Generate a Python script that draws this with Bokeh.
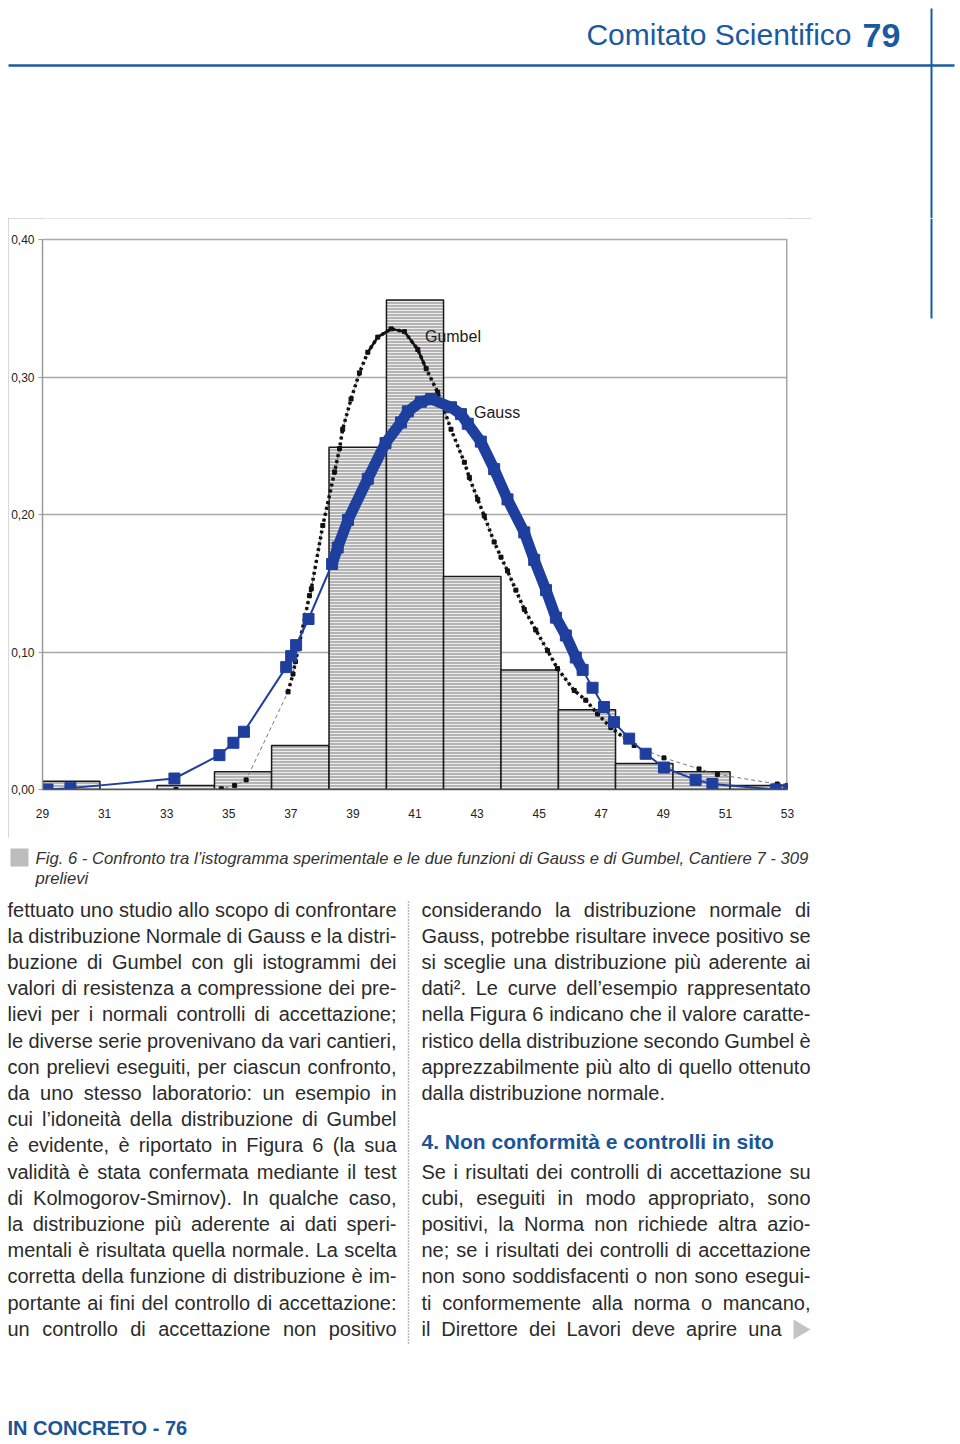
from bokeh.plotting import figure
from bokeh.layouts import column, row
from bokeh.models import Range1d, FixedTicker, CustomJSTickFormatter, ColumnDataSource, Spacer
from bokeh.core.properties import value
from bokeh.embed import file_html
from bokeh.resources import INLINE

# ---------------- data ----------------
bin_edges = [29.0, 30.85, 32.69, 34.54, 36.38, 38.23, 40.08, 41.92, 43.77, 45.62, 47.46, 49.31, 51.15, 53.0]
bar_heights = [0.006, 0.0, 0.003, 0.013, 0.032, 0.249, 0.356, 0.155, 0.087, 0.058, 0.019, 0.013, 0.003]

gauss_x = [29.16, 29.90, 33.25, 34.70, 35.15, 35.49, 36.85, 37.01, 37.17, 37.57, 38.33, 38.51, 38.84,
           39.48, 40.05, 40.55, 40.77, 41.19, 41.52, 42.16, 42.48, 42.70, 43.12, 43.55, 43.98, 44.52,
           44.84, 45.22, 45.54, 45.86, 46.18, 46.40, 46.72, 47.09, 47.41, 47.90, 48.43, 49.02, 50.04,
           50.58, 52.62, 53.04]
gauss_y = [0.000, 0.001, 0.008, 0.025, 0.034, 0.042, 0.089, 0.097, 0.105, 0.124, 0.164, 0.176, 0.196,
           0.226, 0.252, 0.267, 0.275, 0.282, 0.284, 0.278, 0.273, 0.266, 0.253, 0.233, 0.211, 0.187,
           0.167, 0.145, 0.125, 0.112, 0.096, 0.087, 0.074, 0.060, 0.049, 0.037, 0.026, 0.016, 0.007,
           0.004, 0.000, 0.000]

gumbel_x = [33.30, 34.76, 35.19, 35.56, 36.91, 37.07, 37.15, 37.60, 37.66, 38.03, 38.41, 38.57, 38.67,
            38.94, 39.21, 39.48, 39.80, 40.23, 40.66, 41.09, 41.36, 41.73, 42.16, 42.59, 42.75, 43.02,
            43.23, 43.55, 43.77, 43.98, 44.25, 44.52, 44.89, 45.27, 45.59, 46.13, 46.50, 46.88, 47.31,
            48.06, 49.02, 50.15, 50.74, 52.67, 53.00]
gumbel_y = [0.000, 0.0005, 0.003, 0.007, 0.071, 0.084, 0.093, 0.141, 0.146, 0.192, 0.231, 0.248, 0.262,
            0.284, 0.303, 0.318, 0.329, 0.335, 0.333, 0.320, 0.306, 0.289, 0.262, 0.238, 0.227, 0.211,
            0.199, 0.180, 0.169, 0.159, 0.145, 0.131, 0.116, 0.101, 0.088, 0.072, 0.065, 0.055, 0.045,
            0.032, 0.023, 0.015, 0.011, 0.004, 0.003]

y_ticks = [0.0, 0.1, 0.2, 0.3, 0.4]
x_ticks = [29, 31, 33, 35, 37, 39, 41, 43, 45, 47, 49, 51, 53]
curve_labels = ["Gumbel", "Gauss"]
curve_label_x = [41.32, 42.90]
curve_label_y = [0.3295, 0.274]

header_title = "Comitato Scientifico"
header_page = "79"
caption_lines = ["Fig. 6 - Confronto tra l’istogramma sperimentale e le due funzioni di Gauss e di Gumbel, Cantiere 7 - 309",
                 "prelievi"]
left_lines = [
    "fettuato uno studio allo scopo di confrontare",
    "la distribuzione Normale di Gauss e la distri-",
    "buzione di Gumbel con gli istogrammi dei",
    "valori di resistenza a compressione dei pre-",
    "lievi per i normali controlli di accettazione;",
    "le diverse serie provenivano da vari cantieri,",
    "con prelievi eseguiti, per ciascun confronto,",
    "da uno stesso laboratorio: un esempio in",
    "cui l’idoneità della distribuzione di Gumbel",
    "è evidente, è riportato in Figura 6 (la sua",
    "validità è stata confermata mediante il test",
    "di Kolmogorov-Smirnov). In qualche caso,",
    "la distribuzione più aderente ai dati speri-",
    "mentali è risultata quella normale. La scelta",
    "corretta della funzione di distribuzione è im-",
    "portante ai fini del controllo di accettazione:",
    "un controllo di accettazione non positivo",
]
right_lines_a = [
    "considerando la distribuzione normale di",
    "Gauss, potrebbe risultare invece positivo se",
    "si sceglie una distribuzione più aderente ai",
    "dati². Le curve dell’esempio rappresentato",
    "nella Figura 6 indicano che il valore caratte-",
    "ristico della distribuzione secondo Gumbel è",
    "apprezzabilmente più alto di quello ottenuto",
    "dalla distribuzione normale.",
]
heading = "4. Non conformità e controlli in sito"
right_lines_b = [
    "Se i risultati dei controlli di accettazione su",
    "cubi, eseguiti in modo appropriato, sono",
    "positivi, la Norma non richiede altra azio-",
    "ne; se i risultati dei controlli di accettazione",
    "non sono soddisfacenti o non sono esegui-",
    "ti conformemente alla norma o mancano,",
    "il Direttore dei Lavori deve aprire una",
]
footer = "IN CONCRETO - 76"

# ---------------- styles ----------------
BLUE = "#1a5aa0"
DBLUE = "#1b5595"
GAUSS = "#1f3f9e"
TEXT = "#2b2b2b"
SANS = "Liberation Sans"

AW = {' ': 278, '!': 278, '(': 333, ')': 333, ',': 278, '-': 333, '.': 278, ':': 278, ';': 278,
      '’': 222, "'": 191, '²': 333,
      'A': 667, 'B': 667, 'C': 722, 'D': 722, 'E': 667, 'F': 611, 'G': 778, 'H': 722, 'I': 278, 'J': 500,
      'K': 667, 'L': 556, 'M': 833, 'N': 722, 'O': 778, 'P': 667, 'Q': 778, 'R': 722, 'S': 667, 'T': 611,
      'U': 722, 'V': 667, 'W': 944, 'X': 667, 'Y': 667, 'Z': 611,
      'a': 556, 'b': 556, 'c': 500, 'd': 556, 'e': 556, 'f': 278, 'g': 556, 'h': 556, 'i': 222, 'j': 222,
      'k': 500, 'l': 222, 'm': 833, 'n': 556, 'o': 556, 'p': 556, 'q': 556, 'r': 333, 's': 500, 't': 278,
      'u': 556, 'v': 500, 'w': 722, 'x': 500, 'y': 500, 'z': 500,
      'à': 556, 'è': 556, 'é': 556, 'ì': 278, 'ò': 556, 'ù': 556}


def tw(s, size):
    return sum(AW.get(c, 556) for c in s) / 1000.0 * size


def justify(lines, x0, x1, ys, size, last_ragged=False):
    xs_out, ys_out, ts_out = [], [], []
    for i, (line, y) in enumerate(zip(lines, ys)):
        words = line.split(" ")
        widths = [tw(w, size) for w in words]
        ragged = last_ragged and i == len(lines) - 1
        if len(words) > 1 and not ragged:
            gap = (x1 - x0 - sum(widths)) / (len(words) - 1)
        else:
            gap = AW[' '] / 1000.0 * size
        x = x0
        for w, wd in zip(words, widths):
            xs_out.append(x)
            ys_out.append(y)
            ts_out.append(w)
            x += wd + gap
    return xs_out, ys_out, ts_out


def page_fig(w, h, x0, y0, bottom=0):
    f = figure(width=w, height=h, x_range=Range1d(x0, x0 + w), y_range=Range1d(y0 + h - bottom, y0),
               output_backend="svg", toolbar_location=None, x_axis_location=None, y_axis_location=None,
               min_border=0, min_border_left=0, min_border_right=0, min_border_top=0,
               min_border_bottom=bottom)
    f.grid.visible = False
    f.outline_line_color = None
    f.background_fill_color = "white"
    f.border_fill_color = "white"
    return f


# ---------------- header ----------------
header = page_fig(960, 218, 0, 0)
header.text(x=[851], y=[34], text=[header_title], text_align="right", text_baseline="alphabetic",
            text_font=value(SANS), text_font_size=value("30px"), text_color=BLUE)
header.text(x=[862], y=[35], text=[header_page], text_align="left", text_baseline="alphabetic",
            text_font=value(SANS), text_font_style="bold", text_font_size=value("34px"), text_color=BLUE)
header.segment(x0=[8], y0=[65], x1=[954], y1=[65], line_color=BLUE, line_width=2.5)
header.segment(x0=[931], y0=[8], x1=[931], y1=[218], line_color=BLUE, line_width=2)

# ---------------- chart ----------------
TOP_PAD = 21.0 / 1375.0
chart = figure(width=803, height=620, x_range=Range1d(29, 53), y_range=Range1d(0, 0.4 + TOP_PAD),
               output_backend="svg", toolbar_location=None,
               min_border_left=33, min_border_right=24, min_border_top=0, min_border_bottom=49,
               styles={"outline": "2px solid #cdcdcd", "outline-offset": "-2px"})
chart.background_fill_color = "white"
chart.border_fill_color = "white"
chart.outline_line_color = None
chart.xgrid.visible = False
chart.ygrid.ticker = FixedTicker(ticks=y_ticks)
chart.ygrid.grid_line_color = "#a8a8a8"
chart.ygrid.grid_line_width = 1.5
chart.yaxis.ticker = FixedTicker(ticks=y_ticks)
chart.xaxis.ticker = FixedTicker(ticks=x_ticks)
chart.yaxis.bounds = (0, 0.4)
chart.yaxis.formatter = CustomJSTickFormatter(code="return tick.toFixed(2).replace('.', ',');")
for ax in (chart.xaxis[0], chart.yaxis[0]):
    ax.minor_tick_line_color = None
    ax.major_label_text_font = SANS
    ax.major_label_text_font_size = "12px"
    ax.major_label_text_color = "#222222"
chart.yaxis.axis_line_color = "#9a9a9a"
chart.yaxis.axis_line_width = 1.5
chart.yaxis.major_tick_line_color = "#9a9a9a"
chart.yaxis.major_tick_out = 4
chart.yaxis.major_tick_in = 0
chart.yaxis.major_label_standoff = 4
chart.xaxis.axis_line_color = "#555555"
chart.xaxis.axis_line_width = 1.5
chart.xaxis.major_tick_line_color = None
chart.xaxis.major_label_standoff = 13

# right edge of the plot area
chart.segment(x0=[x_ticks[-1]], y0=[y_ticks[0]], x1=[x_ticks[-1]], y1=[y_ticks[-1]],
              line_color="#a8a8a8", line_width=3)

chart.quad(left=bin_edges[:-1], right=bin_edges[1:], bottom=0, top=bar_heights,
           fill_color="#b4b4b4", line_color="#1a1a1a", line_width=1.5,
           hatch_pattern="horizontal_line", hatch_color="#ededed", hatch_scale=3, hatch_weight=1)

# Gumbel
chart.line(gumbel_x, gumbel_y, line_color="#7a7a7a", line_width=1, line_dash="4 3")
gd = [(x, y) for x, y in zip(gumbel_x, gumbel_y) if 36.8 <= x <= 48.1]
chart.line([p[0] for p in gd], [p[1] for p in gd], line_color="#111111", line_width=3.5, line_dash="3 3")
gp = [(x, y) for x, y in zip(gumbel_x, gumbel_y) if 39.4 <= x <= 41.4]
chart.line([p[0] for p in gp], [p[1] for p in gp], line_color="#111111", line_width=2.5)
chart.scatter(gumbel_x, gumbel_y, marker="square", size=4, color="#111111")

# Gauss
chart.line(gauss_x, gauss_y, line_color=GAUSS, line_width=2)
gg = [(x, y) for x, y in zip(gauss_x, gauss_y) if 38.3 <= x <= 46.5]
chart.line([p[0] for p in gg], [p[1] for p in gg], line_color=GAUSS, line_width=11)
chart.scatter(gauss_x, gauss_y, marker="square", size=11, color=GAUSS)

chart.text(x=curve_label_x, y=curve_label_y, text=curve_labels, text_align="left", text_baseline="middle",
           text_font=value(SANS), text_font_size=value("16px"), text_color="#1a1a1a")

strip = page_fig(149, 620, 811, 218, bottom=49)
strip.segment(x0=[931], y0=[218], x1=[931], y1=[318], line_color=BLUE, line_width=2)

# ---------------- text ----------------
body = page_fig(960, 606, 0, 838)
body.quad(left=[10], right=[28], top=[848], bottom=[866], fill_color="#bdbdbd", line_color=None)

cap_size = 773.0 / (tw(caption_lines[0], 1.0))
body.text(x=[35, 35], y=[858, 878], text=caption_lines, text_align="left", text_baseline="alphabetic",
          text_font=value(SANS), text_font_style="italic", text_font_size=value("%.2fpx" % cap_size),
          text_color="#333333")

BS = 20
LH = 26.2
Y0 = 909
lx, ly, lt = justify(left_lines, 7, 396, [Y0 + i * LH for i in range(len(left_lines))], BS)
ra_x, ra_y, ra_t = justify(right_lines_a, 421, 810, [Y0 + i * LH for i in range(len(right_lines_a))], BS,
                           last_ragged=True)
rb_ys = [Y0 + (10 + i) * LH for i in range(len(right_lines_b))]
rb_x, rb_y, rb_t = justify(right_lines_b[:-1], 421, 810, rb_ys[:-1], BS)
rc_x, rc_y, rc_t = justify(right_lines_b[-1:], 421, 781, rb_ys[-1:], BS)

words = ColumnDataSource(dict(x=lx + ra_x + rb_x + rc_x, y=ly + ra_y + rb_y + rc_y, t=lt + ra_t + rb_t + rc_t))
body.text(x="x", y="y", text="t", source=words, text_align="left", text_baseline="alphabetic",
          text_font=value(SANS), text_font_size=value("%dpx" % BS), text_color=TEXT)

body.text(x=[421], y=[1141], text=[heading], text_align="left", text_baseline="alphabetic",
          text_font=value(SANS), text_font_style="bold", text_font_size=value("21px"), text_color=DBLUE)
body.text(x=[7], y=[1427], text=[footer], text_align="left", text_baseline="alphabetic",
          text_font=value(SANS), text_font_style="bold", text_font_size=value("20px"), text_color=DBLUE)

body.segment(x0=[408], y0=[901], x1=[408], y1=[1345], line_color="#777777", line_width=1.5, line_dash="1 2")
body.patch(x=[793, 793, 810], y=[1319, 1339, 1329], fill_color="#c4c4c4", line_color=None)

page = column(header, row(Spacer(width=8, height=620), chart, strip, spacing=0), body, spacing=0)
open("out.html", "w").write(file_html(page, INLINE))
